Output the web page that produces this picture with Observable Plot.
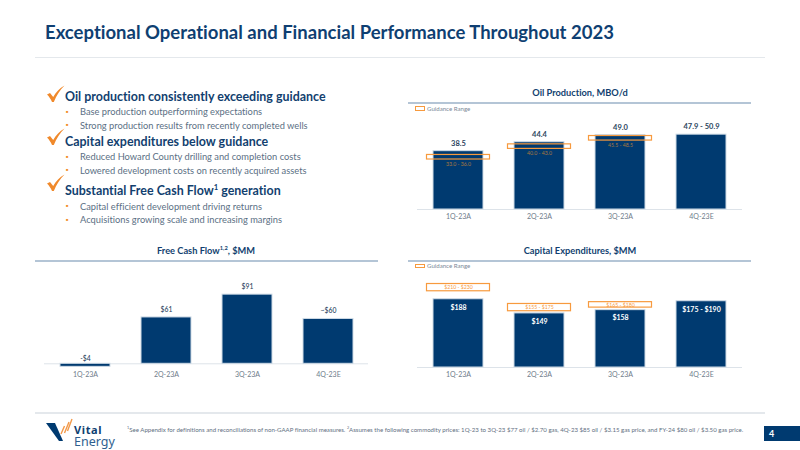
<!DOCTYPE html>
<html><head><meta charset="utf-8">
<script src="https://cdn.jsdelivr.net/npm/d3@7"></script>
<script src="https://cdn.jsdelivr.net/npm/@observablehq/plot@0.6"></script>
<style>
html,body{margin:0;padding:0;background:#fff;font-family:Lato,sans-serif;font-variant-ligatures:none}
#page{position:relative;width:800px;height:450px;overflow:hidden}
#page>*{position:absolute}
.t{white-space:nowrap;line-height:1}
.title{left:45px;font-size:18.5px;font-weight:700;color:#0f3f72}
.rule{height:1.5px;background:#e4e8ec}
.h{left:65px;font-size:12.45px;font-weight:700;color:#123f6f}
.s{left:80px;font-size:9.3px;color:#5b6f84}
.b{left:66px;font-size:4px;color:#f28c28;font-weight:700;padding-top:2.5px}
.ct{font-size:9.25px;font-weight:700;color:#123f6f;text-align:center;transform:translateX(-50%)}
.cr{height:2px;background:#b4c5d6}
.leg{font-size:6.1px;color:#7b8997}
.lb{width:7.5px;height:2.5px;border:1.4px solid #f79a3e}
sup{font-size:.62em;line-height:0;vertical-align:super}
.foot{left:127px;font-size:6.1px;color:#5f6f7f}
.pg{left:764px;top:426px;width:36px;height:15px;background:#003a70;color:#fff;font-size:9px;font-weight:700;line-height:15px;text-indent:5px}
</style></head><body><div id="page"></div>
<script>
const quarters = ["1Q-23A","2Q-23A","3Q-23A","4Q-23E"];
const oilValues = [38.5,44.4,49.0,49.4];
const oilLabels = ["38.5","44.4","49.0","47.9 - 50.9"];
const oilGuideLow = [33,40,45.5];
const oilGuideHigh = [36,43,48.5];
const oilGuideLabels = ["33.0 - 36.0","40.0 - 43.0","45.5 - 48.5"];
const capexValues = [188,149,158,182.5];
const capexLabels = ["$188","$149","$158","$175 - $190"];
const capexGuideLow = [210,155,165];
const capexGuideHigh = [230,175,180];
const capexGuideLabels = ["$210 - $230","$155 - $175","$165 - $180"];
const fcfValues = [-4,61,91,59];
const fcfLabels = ["-$4","$61","$91","~$60"];

const navy="#003a70", halo="#cfdbe6", orange="#f79a3e", tick="#6f7d8b", dark="#2b4560";
const page=document.getElementById("page");
const FONT="Lato, sans-serif";

function add(html){const t=document.createElement("template");t.innerHTML=html.trim();const n=t.content.firstChild;page.appendChild(n);return n;}
function text(cls,l,t,html){const n=add(`<div class="t ${cls}">${html}</div>`);if(l!=null)n.style.left=l+"px";n.style.top=t+"px";}

function chart({left,top,width,height,x0,x1,zero,perUnit,dmin,dmax,tickY,vals,labels,lo,hi,gl,valueInside,guideBelow,labelSize,labelWeight}){
  const bars=quarters.map((q,i)=>({q,v:vals[i],label:labels[i]}));
  const guide=lo?lo.map((l,i)=>({q:quarters[i],lo:l,hi:hi[i],label:gl[i]})):[];
  const base=zero-top;
  const plot=Plot.plot({
    width,height,marginTop:0,marginLeft:x0-left,marginRight:left+width-x1,marginBottom:top+height-(tickY-5),
    style:{fontFamily:FONT,background:"transparent",overflow:"visible"},
    x:{domain:quarters,paddingInner:0.385,paddingOuter:0.1925,label:null},
    y:{domain:[dmin,dmax],range:[base-dmin*perUnit,base-dmax*perUnit],axis:null,label:null},
    marks:[
      Plot.ruleY([0],{stroke:"#dde3e9",strokeWidth:1}),
      Plot.barY(bars,{x:"q",y1:0,y2:"v",fill:navy,stroke:halo,strokeWidth:1}),
      Plot.axisX({anchor:"bottom",tickSize:0,tickPadding:0,label:null,fontSize:7,color:tick,lineAnchor:"top"}),
      Plot.text(bars.filter(d=>d.v>=0),{x:"q",y:"v",text:"label",fontSize:labelSize,fontWeight:labelWeight,
        fill:valueInside?"#fff":dark,dy:valueInside?8:-8}),
      Plot.text(bars.filter(d=>d.v<0),{x:"q",y:0,text:"label",fontSize:labelSize,fontWeight:labelWeight,fill:dark,dy:-5}),
      Plot.barY(guide,{x:"q",y1:"lo",y2:"hi",fill:"none",stroke:orange,strokeWidth:1.2,insetLeft:-6.5,insetRight:-6.5}),
      Plot.text(guide,{x:"q",y:guideBelow?"lo":d=>(d.lo+d.hi)/2,text:"label",fontSize:5.2,
        fill:guideBelow?"#a9793f":orange,dy:guideBelow?4.5:0})
    ]
  });
  plot.style.left=left+"px";plot.style.top=top+"px";plot.style.position="absolute";
  page.appendChild(plot);
}

// header
text("title",null,23,"Exceptional Operational and Financial Performance Throughout 2023");
add(`<div class="rule" style="left:35px;top:56.5px;width:730px"></div>`);

// bullets
const check=(x,y)=>add(`<svg style="left:${x}px;top:${y}px" width="20" height="18" viewBox="0 0 20 18"><path d="M1 9.5 L4 8 L7.2 12 C10 7 13.5 3.5 18.5 0.5 C14 5 10.5 10.5 7.8 17 L6 17 C4.8 14 3 11.5 1 9.5Z" fill="#f0892b"/></svg>`);
check(46,85);check(46,128);check(46,174);
const bul=[[91,"h","Oil production consistently exceeding guidance"],
[107,"s","Base production outperforming expectations"],[120.5,"s","Strong production results from recently completed wells"],
[136,"h","Capital expenditures below guidance"],
[152,"s","Reduced Howard County drilling and completion costs"],[165.5,"s","Lowered development costs on recently acquired assets"],
[185,"h","Substantial Free Cash Flow<sup>1</sup> generation"],
[201.5,"s","Capital efficient development driving returns"],[215,"s","Acquisitions growing scale and increasing margins"]];
for(const [t,c,h] of bul){text(c,null,t,h);if(c==="s")text("b",null,t,"■");}

// chart headers
text("ct",580,88,"Oil Production, MBO/d");
add(`<div class="cr" style="left:408px;top:102px;width:343px"></div>`);
add(`<div class="lb" style="left:415px;top:106px"></div>`);
text("leg",427,105.5,"Guidance Range");
text("ct",580,246,"Capital Expenditures, $MM");
add(`<div class="cr" style="left:408px;top:260px;width:343px"></div>`);
add(`<div class="lb" style="left:415px;top:263.5px"></div>`);
text("leg",427,263,"Guidance Range");
text("ct",206,246,"Free Cash Flow<sup>1,2</sup>, $MM");
add(`<div class="cr" style="left:35px;top:260px;width:343px"></div>`);

chart({left:400,top:110,width:400,height:115,x0:417,x1:742,zero:209,perUnit:1.515,dmin:0,dmax:52,tickY:219,
  vals:oilValues,labels:oilLabels,lo:oilGuideLow,hi:oilGuideHigh,gl:oilGuideLabels,guideBelow:true,labelSize:7.5,labelWeight:700});
chart({left:400,top:272,width:400,height:112,x0:417,x1:742,zero:367,perUnit:0.363,dmin:0,dmax:240,tickY:376.7,
  vals:capexValues,labels:capexLabels,lo:capexGuideLow,hi:capexGuideHigh,gl:capexGuideLabels,valueInside:true,labelSize:7,labelWeight:700});
chart({left:20,top:272,width:380,height:112,x0:44,x1:368,zero:363.3,perUnit:0.76,dmin:-4,dmax:100,tickY:376.7,
  vals:fcfValues,labels:fcfLabels,labelSize:6.8,labelWeight:500});

// footer
add(`<div class="rule" style="left:35px;top:412px;width:730px"></div>`);
add(`<svg style="left:44px;top:418px" width="30" height="26" viewBox="0 0 30 26">
<path d="M2 5 L11 5 L19 23 L15 23 Z" fill="#003a70"/>
<path d="M17 16 L20.5 8 M20.5 15 L25 4 M23.5 13 L28 1" stroke="#f2994a" stroke-width="1.4" fill="none"/></svg>`);
text("",74,420,`<span style="font-family:'Noto Sans';font-size:11px;font-weight:700;letter-spacing:.6px;color:#0f3f72">Vital</span>`);
text("",74,431.5,`<span style="font-family:'Noto Sans';font-size:12.5px;font-weight:400;color:#2f5f8f">Energy</span>`);
text("foot",null,427,`<sup>1</sup>See Appendix for definitions and reconciliations of non-GAAP financial measures. <sup>2</sup>Assumes the following commodity prices: 1Q-23 to 3Q-23 $77 oil / $2.70 gas, 4Q-23 $85 oil / $3.15 gas price, and FY-24 $80 oil / $3.50 gas price.`);
add(`<div class="pg">4</div>`);
</script></body></html>
